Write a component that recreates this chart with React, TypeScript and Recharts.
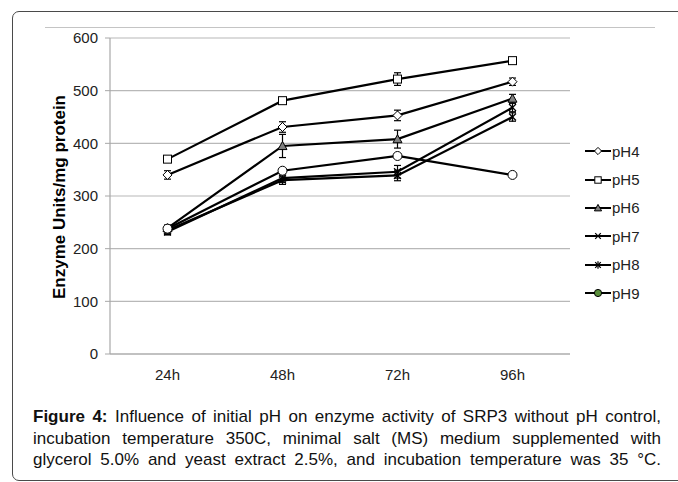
import React from 'react';
import { LineChart, Line, XAxis, YAxis, CartesianGrid, ErrorBar } from 'recharts';

const FONT = '"Liberation Sans", Arial, Helvetica, sans-serif';

// incubation times (x categories)
const times = ['24h', '48h', '72h', '96h'];

// enzyme units / mg protein for each initial pH
const ph4 = [340, 431, 453, 517];
const ph5 = [370, 481, 522, 557];
const ph6 = [239, 395, 408, 485];
const ph7 = [232, 334, 346, 468];
const ph8 = [235, 330, 339, 450];
const ph9 = [238, 348, 376, 340];

// standard deviations
const ph4Err = [8, 10, 10, 7];
const ph5Err = [5, 5, 12, 5];
const ph6Err = [6, 22, 17, 8];
const ph7Err = [6, 8, 12, 8];
const ph8Err = [8, 8, 10, 8];
const ph9Err = [0, 0, 0, 0];

const yTicks = [0, 100, 200, 300, 400, 500, 600];

const rows = times.map((t, i) => ({
  time: t,
  ph4: ph4[i], e4: ph4Err[i],
  ph5: ph5[i], e5: ph5Err[i],
  ph6: ph6[i], e6: ph6Err[i],
  ph7: ph7[i], e7: ph7Err[i],
  ph8: ph8[i], e8: ph8Err[i],
  ph9: ph9[i], e9: ph9Err[i],
}));

type Shape = 'diamond' | 'square' | 'triangle' | 'cross' | 'star' | 'circle';

const series: { key: string; err: string; name: string; shape: Shape; legendFill: string }[] = [
  { key: 'ph4', err: 'e4', name: 'pH4', shape: 'diamond', legendFill: '#fff' },
  { key: 'ph5', err: 'e5', name: 'pH5', shape: 'square', legendFill: '#fff' },
  { key: 'ph6', err: 'e6', name: 'pH6', shape: 'triangle', legendFill: '#808080' },
  { key: 'ph7', err: 'e7', name: 'pH7', shape: 'cross', legendFill: '#fff' },
  { key: 'ph8', err: 'e8', name: 'pH8', shape: 'star', legendFill: '#fff' },
  { key: 'ph9', err: 'e9', name: 'pH9', shape: 'circle', legendFill: '#5a8f3c' },
];

const Marker = ({ cx, cy, shape, s = 1, fill }: { cx: number; cy: number; shape: Shape; s?: number; fill?: string }) => {
  const f = fill || (shape === 'triangle' ? '#808080' : '#fff');
  switch (shape) {
    case 'diamond': {
      const r = 4.5 * s;
      return <polygon points={`${cx},${cy - r} ${cx + r},${cy} ${cx},${cy + r} ${cx - r},${cy}`} fill={f} stroke="#000" strokeWidth={1} />;
    }
    case 'square': {
      const r = 4 * s;
      return <rect x={cx - r} y={cy - r} width={2 * r} height={2 * r} fill={f} stroke="#000" strokeWidth={1} />;
    }
    case 'triangle': {
      const r = 4.5 * s;
      return <polygon points={`${cx},${cy - r} ${cx + r},${cy + r * 0.8} ${cx - r},${cy + r * 0.8}`} fill={f} stroke="#000" strokeWidth={1} />;
    }
    case 'cross': {
      const r = 3.5 * s;
      return (
        <g stroke="#000" strokeWidth={1.2}>
          <line x1={cx - r} y1={cy - r} x2={cx + r} y2={cy + r} />
          <line x1={cx - r} y1={cy + r} x2={cx + r} y2={cy - r} />
        </g>
      );
    }
    case 'star': {
      const r = 3.5 * s;
      return (
        <g stroke="#000" strokeWidth={1.2}>
          <line x1={cx - r} y1={cy - r} x2={cx + r} y2={cy + r} />
          <line x1={cx - r} y1={cy + r} x2={cx + r} y2={cy - r} />
          <line x1={cx} y1={cy - r - 1} x2={cx} y2={cy + r + 1} />
        </g>
      );
    }
    default:
      return <circle cx={cx} cy={cy} r={4.5 * s} fill={f} stroke="#000" strokeWidth={1} />;
  }
};

const captionLine: React.CSSProperties = { textAlign: 'justify', textAlignLast: 'justify', whiteSpace: 'nowrap' };

const App: React.FC = () => {
  return (
    <div style={{ position: 'fixed', left: 0, top: 0, width: 678, height: 482, background: '#fff', overflow: 'hidden', fontFamily: FONT }}>
      {/* figure frame */}
      <div style={{ position: 'absolute', left: 12, top: 11, width: 720, height: 468, border: '1.5px solid #4a4a4a', borderRadius: 7 }} />
      {/* chart area edge */}
      <div style={{ position: 'absolute', left: 45, top: 27, width: 610, borderTop: '1.5px solid #c4c4c4' }} />

      <div style={{ position: 'absolute', left: 0, top: 0 }}>
        <LineChart width={678} height={400} data={rows} margin={{ top: 38, right: 108, left: 70, bottom: 16 }}>
          <CartesianGrid vertical={false} stroke="#b8b8b8" strokeWidth={1.2} />
          {/* tick marks between categories */}
          <XAxis
            xAxisId="marks"
            type="number"
            domain={[0, 4]}
            ticks={[0, 1, 2, 3, 4]}
            tick={false}
            height={0}
            axisLine={false}
            tickLine={{ stroke: '#a8a8a8' }}
            tickSize={5}
          />
          <XAxis
            dataKey="time"
            padding={{ left: 57.5, right: 57.5 }}
            height={30}
            axisLine={{ stroke: '#a8a8a8', strokeWidth: 1.2 }}
            tickLine={false}
            tickSize={0}
            tickMargin={15}
            tick={{ fontSize: 15, fill: '#222', fontFamily: FONT }}
          />
          <YAxis
            width={40}
            domain={[0, 600]}
            ticks={yTicks}
            axisLine={{ stroke: '#a8a8a8', strokeWidth: 1.2 }}
            tickLine={{ stroke: '#a8a8a8' }}
            tickSize={5}
            tickMargin={7}
            tick={{ fontSize: 15, fill: '#222', fontFamily: FONT }}
          />
          {series.map((s) => (
            <Line
              key={s.key}
              dataKey={s.key}
              name={s.name}
              stroke="#000"
              strokeWidth={2.2}
              isAnimationActive={false}
              dot={(p: any) => <Marker key={`${s.key}-${p.index}`} cx={p.cx} cy={p.cy} shape={s.shape} />}
            >
              <ErrorBar dataKey={s.err} direction="y" width={3.5} stroke="#000" strokeWidth={1.2} />
            </Line>
          ))}
        </LineChart>
      </div>

      {/* y axis title */}
      <div
        style={{
          position: 'absolute', left: 60, top: 197, transform: 'translate(-50%, -50%) rotate(-90deg)',
          whiteSpace: 'nowrap', fontWeight: 'bold', fontSize: 17, color: '#000',
        }}
      >
        Enzyme Units/mg protein
      </div>

      {/* legend */}
      <div style={{ position: 'absolute', left: 585, top: 137 }}>
        {series.map((s) => (
          <div key={s.key} style={{ display: 'flex', alignItems: 'center', height: 28.4 }}>
            <svg width={26} height={12}>
              <line x1={0} y1={6} x2={26} y2={6} stroke="#000" strokeWidth={2} />
              <Marker cx={13} cy={6} shape={s.shape} s={0.8} fill={s.legendFill} />
            </svg>
            <span style={{ fontSize: 15, color: '#222', marginLeft: 1 }}>{s.name}</span>
          </div>
        ))}
      </div>

      {/* caption */}
      <div style={{ position: 'absolute', left: 33, top: 406, width: 628, fontSize: 17, lineHeight: '21.5px', color: '#111' }}>
        <div style={captionLine}>
          <b>Figure 4:</b> Influence of initial pH on enzyme activity of SRP3 without pH control,
        </div>
        <div style={captionLine}>
          incubation temperature 350C, minimal salt (MS) medium supplemented with
        </div>
        <div style={captionLine}>
          glycerol 5.0% and yeast extract 2.5%, and incubation temperature was 35 °C.
        </div>
      </div>
    </div>
  );
};

export default App;
